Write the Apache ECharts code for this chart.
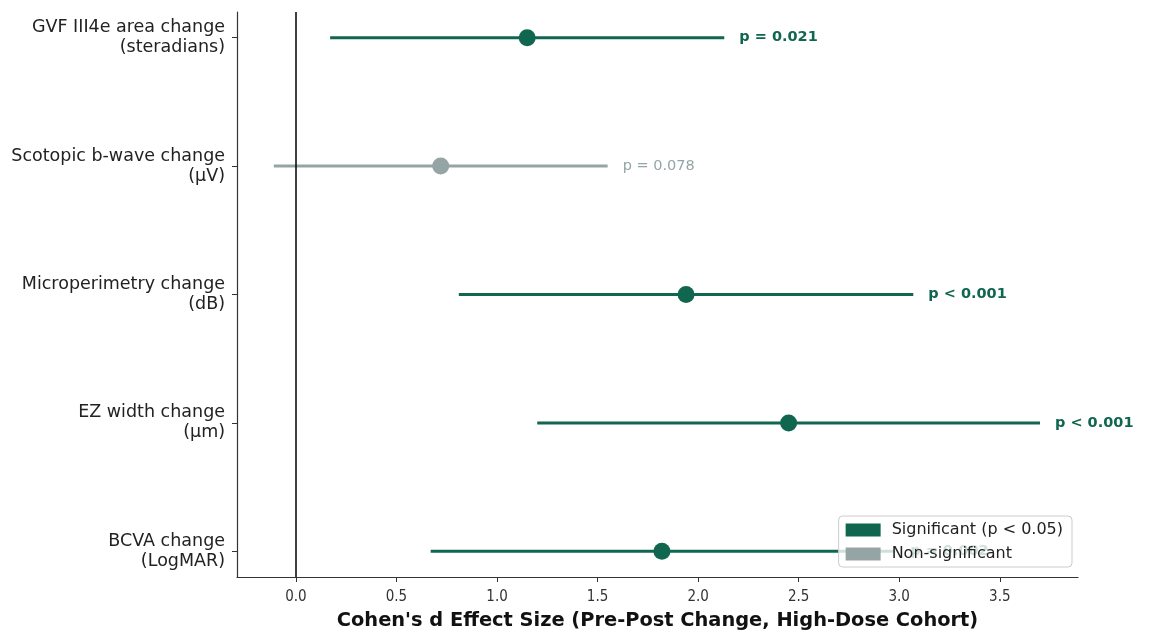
<!DOCTYPE html>
<html>
<head>
<meta charset="utf-8">
<script src="https://cdn.jsdelivr.net/npm/echarts@6/dist/echarts.min.js"></script>
<style>
  html, body { margin: 0; padding: 0; background: #fff; }
  #chart { width: 1166px; height: 634px; }
</style>
</head>
<body>
<div id="chart"></div>
<script>
// Outcome measures, top to bottom
const categories = [
  'GVF III4e area change\n(steradians)',
  'Scotopic b-wave change\n(μV)',
  'Microperimetry change\n(dB)',
  'EZ width change\n(μm)',
  'BCVA change\n(LogMAR)'
];
// Cohen's d point estimates and 95% CI bounds
const effect = [1.15, 0.72, 1.94, 2.45, 1.82];
const lower  = [0.17, -0.11, 0.81, 1.20, 0.67];
const upper  = [2.13, 1.55, 3.07, 3.70, 2.98];
const pLabels = ['p = 0.021', 'p = 0.078', 'p < 0.001', 'p < 0.001', 'p = 0.002'];
const significant = [true, false, true, true, true];
const xTicks = [0, 0.5, 1.0, 1.5, 2.0, 2.5, 3.0, 3.5];

const GREEN = '#11664f';
const GREY = '#95a5a6';
const FONT = "'DejaVu Sans', sans-serif";
const FONT_NARROW = "'Liberation Sans Narrow', 'DejaVu Sans Condensed', sans-serif";

function rowsFor(sig) {
  const out = [];
  categories.forEach((c, i) => {
    if (significant[i] === sig) out.push([i, effect[i], lower[i], upper[i], pLabels[i]]);
  });
  return out;
}

function makeRender(color, bold) {
  return function (params, api) {
    const y = api.value(0);
    const est = api.coord([api.value(1), y]);
    const lo = api.coord([api.value(2), y]);
    const hi = api.coord([api.value(3), y]);
    return {
      type: 'group',
      children: [
        { type: 'line', shape: { x1: lo[0], y1: lo[1], x2: hi[0], y2: hi[1] },
          style: { stroke: color, lineWidth: 3 } },
        { type: 'circle', shape: { cx: est[0], cy: est[1], r: 8.5 },
          style: { fill: color } },
        { type: 'text', x: hi[0] + 15, y: hi[1],
          style: { text: api.value(4), fill: color, fontFamily: FONT, fontSize: 14.5,
                   fontWeight: bold ? 'bold' : 'normal', verticalAlign: 'middle', align: 'left' } }
      ]
    };
  };
}

const chart = echarts.init(document.getElementById('chart'));
chart.setOption({
  animation: false,
  backgroundColor: '#fff',
  grid: { left: 237, right: 88, top: 12, bottom: 57, containLabel: false, outerBoundsMode: 'none' },
  xAxis: {
    type: 'value', min: -0.293, max: 3.889,
    name: "Cohen's d Effect Size (Pre-Post Change, High-Dose Cohort)",
    nameLocation: 'middle', nameGap: 34,
    nameTextStyle: { fontFamily: FONT, fontSize: 19.4, fontWeight: 'bold', color: '#111' },
    axisLine: { show: true, onZero: false, lineStyle: { color: '#333', width: 1.2 } },
    axisTick: { show: true, length: 5, customValues: xTicks, lineStyle: { color: '#333' } },
    axisLabel: { customValues: xTicks, margin: 13, fontFamily: FONT_NARROW, fontSize: 15, color: '#333',
                 formatter: v => v.toFixed(1) },
    splitLine: { show: false }
  },
  yAxis: {
    type: 'value', min: -0.2, max: 4.2, inverse: true,
    axisLine: { show: true, onZero: false, lineStyle: { color: '#333', width: 1.2 } },
    axisTick: { show: true, length: 5, customValues: [0, 1, 2, 3, 4], lineStyle: { color: '#333' } },
    axisLabel: { customValues: [0, 1, 2, 3, 4], margin: 12, fontFamily: FONT, fontSize: 17.5, color: '#222',
                 lineHeight: 20, align: 'right',
                 formatter: v => categories[Math.round(v)] },
    splitLine: { show: false }
  },
  legend: {
    orient: 'vertical', right: 94, bottom: 67,
    data: [
      { name: 'Significant (p < 0.05)', icon: 'rect', itemStyle: { color: GREEN } },
      { name: 'Non-significant', icon: 'rect', itemStyle: { color: GREY } }
    ],
    itemWidth: 35, itemHeight: 13, itemGap: 8, align: 'left',
    padding: [6, 9, 5, 7],
    backgroundColor: 'rgba(255,255,255,0.8)', borderColor: '#ccc', borderWidth: 1, borderRadius: 4,
    textStyle: { fontFamily: FONT, fontSize: 16, color: '#222', padding: [0, 0, 0, 6] }
  },
  series: [
    {
      name: 'Significant (p < 0.05)', type: 'custom',
      itemStyle: { color: GREEN },
      renderItem: makeRender(GREEN, true),
      encode: { x: [1, 2, 3], y: 0 },
      data: rowsFor(true),
      markLine: {
        silent: true, symbol: 'none', label: { show: false },
        lineStyle: { color: '#000', width: 1.5, type: 'solid' },
        data: [{ xAxis: 0 }]
      }
    },
    {
      name: 'Non-significant', type: 'custom',
      itemStyle: { color: GREY },
      renderItem: makeRender(GREY, false),
      encode: { x: [1, 2, 3], y: 0 },
      data: rowsFor(false)
    }
  ]
});
</script>
</body>
</html>
